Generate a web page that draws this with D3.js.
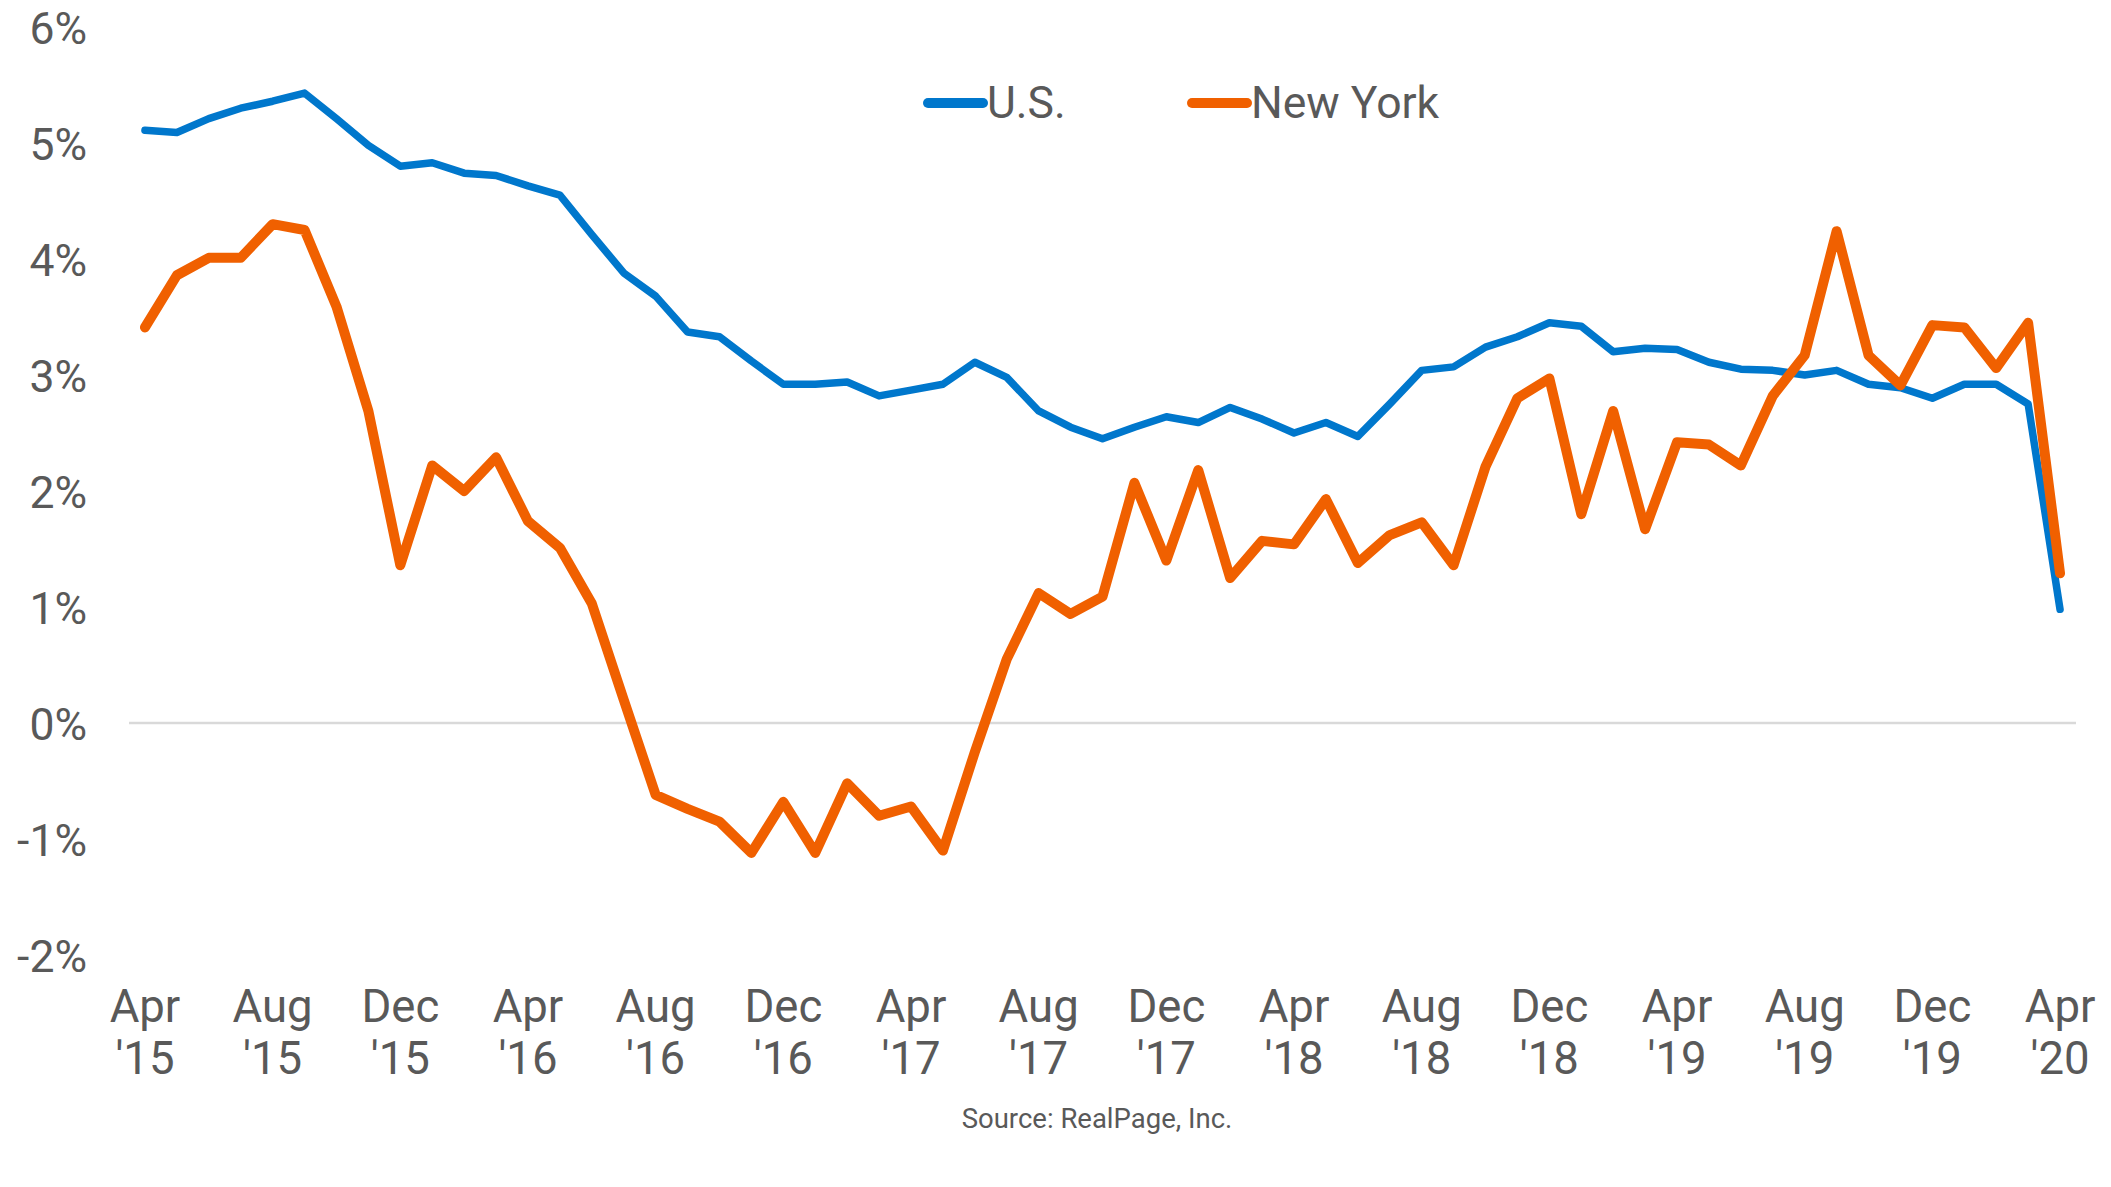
<!DOCTYPE html>
<html>
<head>
<meta charset="utf-8">
<script src="https://cdn.jsdelivr.net/npm/d3@7"></script>
<style>
  html, body { margin: 0; padding: 0; background: #fff; }
  svg text { font-family: Roboto, "Open Sans", sans-serif; fill: #595959; }
</style>
</head>
<body>
<div id="chart"></div>
<script>
'use strict';
// monthly categories, Apr 2015 .. Apr 2020
var months = d3.timeMonth.range(new Date(2015, 3, 1), new Date(2020, 4, 1));

// year-over-year rent growth, %
var usValues = [5.11, 5.09, 5.21, 5.30, 5.36, 5.43, 5.21, 4.98, 4.80, 4.83,
  4.74, 4.72, 4.63, 4.55, 4.21, 3.88, 3.68, 3.37, 3.33, 3.12,
  2.92, 2.92, 2.94, 2.82, 2.87, 2.92, 3.11, 2.98, 2.69, 2.55,
  2.45, 2.55, 2.64, 2.59, 2.72, 2.62, 2.50, 2.59, 2.47, 2.75,
  3.04, 3.07, 3.24, 3.33, 3.45, 3.42, 3.20, 3.23, 3.22, 3.11,
  3.05, 3.04, 3.00, 3.04, 2.92, 2.89, 2.80, 2.92, 2.92, 2.75,
  0.98];
var nyValues = [3.41, 3.86, 4.01, 4.01, 4.30, 4.25, 3.59, 2.69, 1.36, 2.22,
  2.00, 2.29, 1.74, 1.51, 1.03, 0.20, -0.62, -0.74, -0.85, -1.12,
  -0.68, -1.12, -0.52, -0.80, -0.72, -1.10, -0.25, 0.55, 1.12, 0.94,
  1.09, 2.07, 1.40, 2.18, 1.25, 1.57, 1.54, 1.93, 1.38, 1.62,
  1.73, 1.36, 2.21, 2.80, 2.97, 1.80, 2.69, 1.67, 2.42, 2.40,
  2.22, 2.82, 3.17, 4.24, 3.17, 2.91, 3.43, 3.41, 3.06, 3.45,
  1.29];
var yTicks = [-2, -1, 0, 1, 2, 3, 4, 5, 6];

var series = [
  { name: 'U.S.', values: usValues, color: '#0077CC', width: 7.5 },
  { name: 'New York', values: nyValues, color: '#F06000', width: 10 }
];

var width = 2111, height = 1187;
var svg = d3.select('#chart').append('svg')
  .attr('width', width)
  .attr('height', height);

var x = d3.scaleBand()
  .domain(d3.range(months.length))
  .range([129, 2076])
  .padding(0);
var y = d3.scaleLinear()
  .domain([-2, 6])
  .range([955, 27]);

function cx(i) {
  return x(i) + x.bandwidth() / 2;
}

// zero line
svg.append('line')
  .attr('x1', x.range()[0])
  .attr('x2', x.range()[1])
  .attr('y1', y(0))
  .attr('y2', y(0))
  .attr('stroke', '#D9D9D9')
  .attr('stroke-width', 2.5);

// y labels
var yAxis = d3.axisLeft(y)
  .tickValues(yTicks)
  .tickSize(0)
  .tickPadding(0)
  .tickFormat(function (d) { return d + '%'; });
var yg = svg.append('g')
  .attr('transform', 'translate(87,0)')
  .call(yAxis);
yg.select('.domain').remove();
yg.selectAll('text')
  .attr('font-size', 44.5)
  .attr('dy', '0.36em');

// x labels, every 4th month, two lines
var fmtMonth = d3.timeFormat('%b');
var fmtYear = d3.timeFormat("'%y");
var xTicks = d3.range(0, months.length, 4);
var xg = svg.append('g');
var xt = xg.selectAll('text')
  .data(xTicks)
  .enter()
  .append('text')
  .attr('x', function (d) { return cx(d); })
  .attr('y', 1022)
  .attr('text-anchor', 'middle')
  .attr('font-size', 45.5);
xt.append('tspan')
  .attr('x', function (d) { return cx(d); })
  .text(function (d) { return fmtMonth(months[d]); });
xt.append('tspan')
  .attr('x', function (d) { return cx(d); })
  .attr('dy', 52)
  .text(function (d) { return fmtYear(months[d]); });

// lines
var line = d3.line()
  .x(function (d, i) { return cx(i); })
  .y(function (d) { return y(d); });

svg.append('g').selectAll('path')
  .data(series)
  .enter()
  .append('path')
  .attr('d', function (s) { return line(s.values); })
  .attr('fill', 'none')
  .attr('stroke', function (s) { return s.color; })
  .attr('stroke-width', function (s) { return s.width; })
  .attr('stroke-linejoin', 'round')
  .attr('stroke-linecap', 'round');

// legend
var legendX = [928, 1192];
var legend = svg.append('g').selectAll('g')
  .data(series)
  .enter()
  .append('g')
  .attr('transform', function (d, i) { return 'translate(' + legendX[i] + ',103)'; });
legend.append('line')
  .attr('x1', 0)
  .attr('x2', 55)
  .attr('stroke', function (d) { return d.color; })
  .attr('stroke-width', 10)
  .attr('stroke-linecap', 'round');
legend.append('text')
  .attr('x', 59)
  .attr('y', 15)
  .attr('font-size', 44.5)
  .text(function (d) { return d.name; });

// source
svg.append('text')
  .attr('x', 1097)
  .attr('y', 1128)
  .attr('text-anchor', 'middle')
  .attr('font-size', 27.5)
  .text('Source: RealPage, Inc.');
</script>
</body>
</html>
